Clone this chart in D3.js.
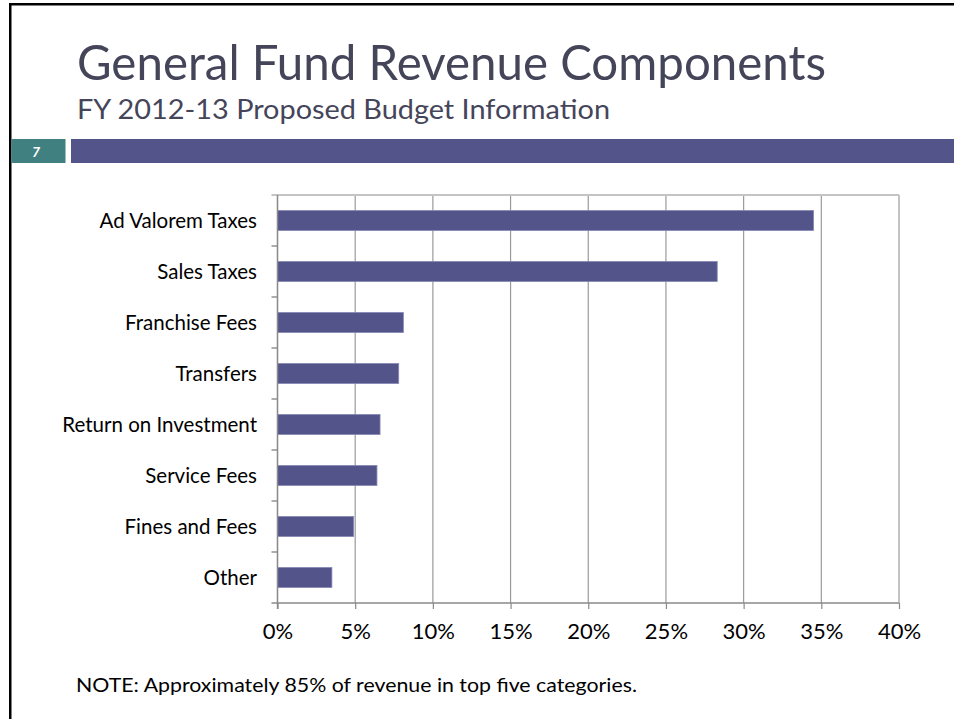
<!DOCTYPE html>
<html>
<head>
<meta charset="utf-8">
<script src="https://cdn.jsdelivr.net/npm/d3@7"></script>
<style>
  html, body { margin: 0; padding: 0; background: #fff; }
  svg { display: block; }
  text { font-family: Lato, "Open Sans", sans-serif; }
</style>
</head>
<body>
<svg id="slide" width="954" height="719"></svg>
<script>
// Share of General Fund revenue by source, FY 2012-13 proposed budget
const categories = [
  "Ad Valorem Taxes", "Sales Taxes", "Franchise Fees", "Transfers",
  "Return on Investment", "Service Fees", "Fines and Fees", "Other"
];
const shares = [34.5, 28.3, 8.1, 7.8, 6.6, 6.4, 4.9, 3.5];
const xTicks = [0, 5, 10, 15, 20, 25, 30, 35, 40];

const titleText = "General Fund Revenue Components";
const subtitleText = "FY 2012-13 Proposed Budget Information";
const slideNumber = "7";
const noteText = "NOTE:  Approximately 85% of revenue in top five categories.";

const rows = categories.map((c, i) => ({ name: c, value: shares[i] }));

const svg = d3.select("#slide");
const W = 954, H = 719;
const purple = "#53548a", teal = "#408080";

// Slide frame (top and left edges)
svg.append("rect").attr("x", 9).attr("y", 3).attr("width", W - 9).attr("height", 2.5).attr("fill", "#000");
svg.append("rect").attr("x", 9).attr("y", 3).attr("width", 2.5).attr("height", H - 3).attr("fill", "#000");

// Title block
svg.append("text")
  .attr("x", 77).attr("y", 80)
  .attr("font-size", 49).attr("fill", "#45455a")
  .attr("textLength", 749).attr("lengthAdjust", "spacingAndGlyphs")
  .text(titleText);
svg.append("text")
  .attr("x", 77).attr("y", 119)
  .attr("font-size", 27).attr("fill", "#45455a")
  .attr("textLength", 533).attr("lengthAdjust", "spacingAndGlyphs")
  .text(subtitleText);

// Slide number tab and banner
svg.append("rect").attr("x", 11.5).attr("y", 139).attr("width", 54).attr("height", 24).attr("fill", teal);
svg.append("rect").attr("x", 71).attr("y", 139).attr("width", W - 71).attr("height", 24).attr("fill", purple);
svg.append("text")
  .attr("x", 36).attr("y", 156.5)
  .attr("font-size", 14).attr("font-weight", 700).attr("font-style", "italic")
  .attr("fill", "#fff").attr("text-anchor", "middle")
  .text(slideNumber);

// Chart area
const plot = { left: 277.5, right: 899, top: 195, bottom: 603 };

const x = d3.scaleLinear().domain([0, 40]).range([plot.left, plot.right]);
const y = d3.scaleBand().domain(categories).range([plot.top, plot.bottom]).paddingInner(0.61).paddingOuter(0.305);
const yEdges = d3.scaleLinear().domain([0, categories.length]).range([plot.top, plot.bottom]);

const g = svg.append("g");

// Vertical gridlines
g.append("g")
  .selectAll("line")
  .data(xTicks)
  .join("line")
  .attr("x1", d => x(d)).attr("x2", d => x(d))
  .attr("y1", plot.top).attr("y2", plot.bottom)
  .attr("stroke", "#9a9a9a").attr("stroke-width", 1.2);

// Top edge of the plot area
g.append("line")
  .attr("x1", plot.left - 6).attr("x2", plot.right)
  .attr("y1", plot.top).attr("y2", plot.top)
  .attr("stroke", "#c4c4c4").attr("stroke-width", 2);

// Bars
g.append("g")
  .selectAll("rect")
  .data(rows)
  .join("rect")
  .attr("x", x(0))
  .attr("y", d => y(d.name))
  .attr("width", d => x(d.value) - x(0))
  .attr("height", y.bandwidth())
  .attr("fill", purple)
  .attr("stroke", "#8486b4").attr("stroke-width", 0.8);

// Category axis with ticks on band boundaries
const yAxisG = g.append("g");
yAxisG.append("line")
  .attr("x1", plot.left).attr("x2", plot.left)
  .attr("y1", plot.top).attr("y2", plot.bottom + 6)
  .attr("stroke", "#8a8a8a").attr("stroke-width", 1.4);
yAxisG.selectAll("line.tick")
  .data(d3.range(1, categories.length))
  .join("line")
  .attr("class", "tick")
  .attr("x1", plot.left - 6).attr("x2", plot.left)
  .attr("y1", d => yEdges(d)).attr("y2", d => yEdges(d))
  .attr("stroke", "#8a8a8a").attr("stroke-width", 1.4);
yAxisG.selectAll("text")
  .data(rows)
  .join("text")
  .attr("x", 257)
  .attr("y", d => y(d.name) + y.bandwidth() / 2)
  .attr("dy", "0.38em")
  .attr("text-anchor", "end")
  .attr("font-size", 20.5)
  .attr("fill", "#000")
  .text(d => d.name);

// Percentage axis
const xAxis = d3.axisBottom(x)
  .tickValues(xTicks)
  .tickSize(6)
  .tickPadding(14)
  .tickFormat(d => d + "%");
const xAxisG = g.append("g")
  .attr("transform", `translate(0,${plot.bottom})`)
  .call(xAxis);
xAxisG.select(".domain").remove();
xAxisG.append("line")
  .attr("x1", plot.left - 6).attr("x2", plot.right)
  .attr("y1", 0).attr("y2", 0)
  .attr("stroke", "#8a8a8a").attr("stroke-width", 1.4);
xAxisG.selectAll(".tick line").attr("stroke", "#8a8a8a").attr("stroke-width", 1.2);
xAxisG.selectAll(".tick text")
  .attr("font-family", "Lato, sans-serif")
  .attr("font-size", 22)
  .attr("fill", "#000");

// Footnote
svg.append("text")
  .attr("x", 76).attr("y", 692)
  .attr("font-size", 19)
  .attr("fill", "#000")
  .attr("textLength", 561).attr("lengthAdjust", "spacingAndGlyphs")
  .text(noteText);
</script>
</body>
</html>
